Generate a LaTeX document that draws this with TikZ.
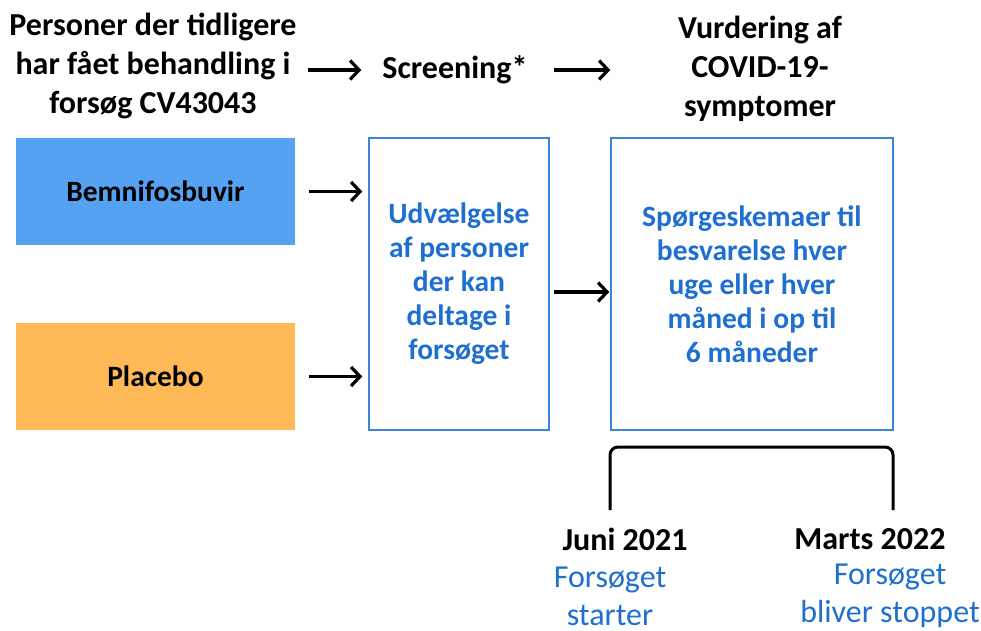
\documentclass[tikz,border=0pt]{standalone}
\usepackage{fontspec}
\setmainfont{Carlito}
\definecolor{trBlue}{HTML}{56A2F2}
\definecolor{trOrange}{HTML}{FFB957}
\definecolor{trLine}{HTML}{3A85D8}
\definecolor{trText}{HTML}{1F6FD0}
\usetikzlibrary{positioning,arrows.meta}

\begin{document}
\begin{tikzpicture}[x=1pt,y=-1pt,
  head/.style={font=\fontsize{32}{39}\selectfont\bfseries, align=center, inner sep=0pt},
  arm/.style={minimum width=279pt, minimum height=107pt, font=\fontsize{29.5}{34}\selectfont\bfseries, inner sep=0pt},
  step box/.style={draw=trLine, line width=1.5pt, text=trText, align=center,
    font=\fontsize{29.5}{34}\selectfont\bfseries, inner sep=0pt},
  date/.style={font=\fontsize{32}{38}\selectfont\bfseries, inner sep=0pt},
  note/.style={text=trText, align=center, font=\fontsize{32}{38}\selectfont, inner sep=0pt},
  arr/.style={-{Straight Barb[length=9pt,width=19pt]}, line width=3.2pt}
]
  \useasboundingbox (0,0) rectangle (981,630);

  % top row
  \node[head] (persons) at (153,66) {Personer der tidligere\\har fået behandling i\\forsøg CV43043};
  \node[head] (screen) at (455,70) {Screening*};
  \node[head] (assess) at (760,69) {Vurdering af\\COVID-19-\\symptomer};

  % boxes
  \node[arm, fill=trBlue] (bem) at (155.5,191.5) {Bemnifosbuvir};
  \node[arm, fill=trOrange] (plac) at (155.5,376.5) {Placebo};
  \node[step box, minimum width=180pt, minimum height=292pt] (select) at (459,284)
    {Udvælgelse\\af personer\\der kan\\deltage i\\forsøget};
  \node[step box, minimum width=282pt, minimum height=292pt] (quest) at (752,284)
    {Spørgeskemaer til\\besvarelse hver\\uge eller hver\\måned i op til\\6 måneder};

  \coordinate (selBem) at (select.west |- bem);
  \coordinate (selPlac) at (select.west |- plac);
  \coordinate (questIn) at (quest.west |- 0,292);
  \coordinate (selOut) at (select.east |- 0,292);

  \draw[arr, shorten <=11pt] (persons.east |- screen) -- ([xshift=-21pt]screen.west);
  \draw[arr, shorten <=26pt] (screen.east) -- (screen.east -| quest.west);
  \draw[arr, shorten <=14pt, shorten >=6pt] (bem.east) -- (selBem);
  \draw[arr, shorten <=14pt, shorten >=6pt] (plac.east) -- (selPlac);
  \draw[arr, shorten <=4pt, shorten >=1pt] (selOut) -- (questIn);

  % time span
  \coordinate (spanL) at (610,510);
  \coordinate (spanR) at (893,510);
  \draw[line width=3pt, rounded corners=8pt] (spanL) -- (610,447) -- (893,447) -- (spanR);

  \node[date] (start) at (625,539) {Juni 2021};
  \node[note] (startNote) at (610,596) {Forsøget\\starter};
  \node[date] (stop) at (870,539) {Marts 2022};
  \node[note] (stopNote) at (890,596) {Forsøget\\bliver stoppet};
\end{tikzpicture}
\end{document}
